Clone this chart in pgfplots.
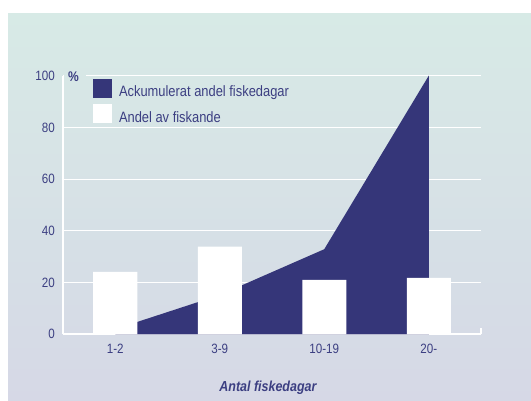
\documentclass[border=0pt]{standalone}
\usepackage{pgfplots}
\pgfplotsset{compat=1.18}
\usepackage{fontspec}
\setmainfont{Liberation Sans}[FakeStretch=0.86]

\definecolor{navyfill}{HTML}{353679}
\definecolor{navytext}{HTML}{3C3F82}
\definecolor{bgtop}{HTML}{D7EAE6}
\definecolor{bgbot}{HTML}{D6D8E6}
\definecolor{bgpct}{HTML}{D7E7E6}

\begin{document}
\begin{tikzpicture}
% page and panel
\fill[white] (0pt,0pt) rectangle (531pt,401pt);
\shade[top color=bgtop, bottom color=bgbot] (8pt,0pt) rectangle (531pt,387pt);

\begin{axis}[
  at={(63pt,66.7pt)}, anchor=south west,
  scale only axis,
  width=418pt, height=258.6pt,
  xmin=-0.5, xmax=3.5,
  ymin=0, ymax=100,
  xtick={0,1,2,3},
  xticklabels={1-2,3-9,10-19,20-},
  ytick={0,20,40,60,80,100},
  /pgf/number format/assume math mode=true,
  major tick length=0pt,
  tick style={draw=none},
  axis x line*=bottom,
  axis y line*=left,
  x axis line style={white, line width=1.6pt, -},
  y axis line style={white, line width=1.2pt, -},
  ymajorgrids,
  grid style={white, line width=1.2pt},
  ticklabel style={font=\fontsize{13.5}{15}\selectfont, text=navytext, inner sep=0pt},
  yticklabel style={xshift=-8pt},
  xticklabel style={yshift=-9.7pt},
  xlabel={\textbf{\textit{Antal fiskedagar}}},
  xlabel style={font=\fontsize{14.5}{16}\selectfont, text=navytext,
                at={(axis description cs:0.491,0)}, anchor=base, yshift=-57.4pt},
  legend style={at={(axis description cs:0.0718,0.987)}, anchor=north west,
                draw=none, fill=none, inner sep=0pt, outer sep=0pt,
                row sep=6.1pt, column sep=7pt,
                nodes={inner sep=0pt, text=navytext, font=\fontsize{15}{17}\selectfont}},
  legend cell align=left,
  clip=false,
]

% cumulative share of fishing days (area)
\addplot[fill=navyfill, draw=none,
  legend image code/.code={\fill[navyfill] (0pt,-6pt) rectangle (19pt,13pt);}]
  coordinates {(0,2.0) (1,15.2) (2,32.9) (3,100)} \closedcycle;
\addlegendentry{Ackumulerat andel fiskedagar}

% share of anglers (bars)
\addplot[ybar, bar width=44pt, fill=white, draw=none,
  legend image code/.code={\fill[white] (0pt,-6pt) rectangle (19pt,13pt);}]
  coordinates {(0,24.1) (1,33.9) (2,21.0) (3,21.8)};
\addlegendentry{Andel av fiskande}

% small end tick on the baseline
\draw[white, line width=1.2pt] (axis cs:3.5,0) -- (axis cs:3.5,2.3);

% percent sign, hiding the start of the top grid line
\fill[bgpct] (axis cs:-0.49,98.8) rectangle (axis cs:-0.28,101.2);
\node[anchor=base west, inner sep=0pt, text=navytext,
      font=\fontsize{14}{16}\selectfont\bfseries] at (axis cs:-0.452,97.6) {\%};

\end{axis}
\end{tikzpicture}
\end{document}
